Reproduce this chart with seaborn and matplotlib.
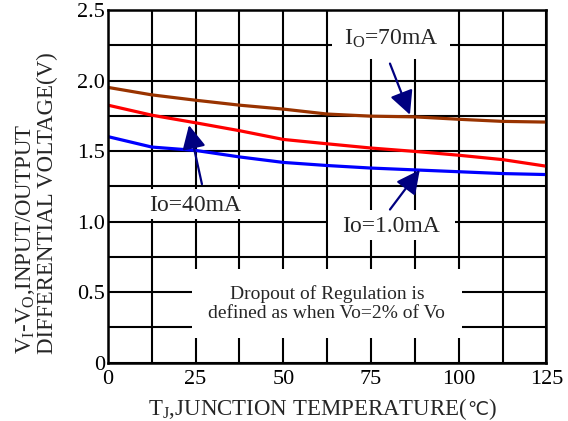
import numpy as np
import pandas as pd
import matplotlib
matplotlib.use("Agg")
import matplotlib.pyplot as plt
from matplotlib.patches import Rectangle
import seaborn as sns

# ---- data ----
temps = [0, 12.5, 25, 37.5, 50, 62.5, 75, 87.5, 100, 112.5, 125]
v_70ma = [1.952, 1.899, 1.861, 1.826, 1.798, 1.763, 1.748, 1.743, 1.726, 1.711, 1.706]
v_40ma = [1.826, 1.755, 1.701, 1.645, 1.583, 1.552, 1.522, 1.498, 1.471, 1.440, 1.393]
v_1ma = [1.603, 1.529, 1.505, 1.459, 1.420, 1.398, 1.380, 1.367, 1.354, 1.341, 1.334]
series_names = ["70mA", "40mA", "1.0mA"]
x_ticks = [0, 25, 50, 75, 100, 125]
y_ticks = [0, 0.5, 1.0, 1.5, 2.0, 2.5]
y_tick_labels = ["0", "0.5", "1.0", "1.5", "2.0", "2.5"]

df = pd.DataFrame({
    "T": temps * 3,
    "V": v_70ma + v_40ma + v_1ma,
    "Io": [series_names[0]] * len(temps) + [series_names[1]] * len(temps) + [series_names[2]] * len(temps),
})

sns.set_style("white")
plt.rcParams['font.family'] = ['Liberation Serif', 'DejaVu Sans']
plt.rcParams['mathtext.fontset'] = 'custom'
plt.rcParams['mathtext.rm'] = 'Liberation Serif'
plt.rcParams['mathtext.it'] = 'Liberation Serif'

fig = plt.figure(figsize=(5.68, 4.21), dpi=100)
ax = fig.add_axes([0.190, 0.1385, 0.772, 0.8375])

palette = {"70mA": "#993300", "40mA": "#ff0000", "1.0mA": "#0000ff"}
sns.lineplot(data=df, x="T", y="V", hue="Io", palette=palette, linewidth=2.3,
             legend=False, ax=ax, zorder=4)

ax.set_xlim(0, 125)
ax.set_ylim(0, 2.5)
ax.set_xticks(x_ticks)
ax.set_xticks(np.arange(0, 125.1, 12.5), minor=True)
ax.set_yticks(y_ticks)
ax.set_yticklabels(y_tick_labels)
ax.set_yticks(np.arange(0, 2.51, 0.25), minor=True)
ax.grid(which='both', color='black', linewidth=1.5, zorder=1)
ax.set_axisbelow(True)
ax.tick_params(which='both', length=0, labelsize=16, colors='black')
ax.tick_params(axis='x', pad=5)
ax.tick_params(axis='y', pad=2)
for s in ax.spines.values():
    s.set_color('black')
    s.set_linewidth(1.8)
    s.set_zorder(6)
ax.set_xlabel("")
ax.set_ylabel("")

# white boxes behind annotations
boxes = [
    (64, 2.15, 33.5, 0.36),     # Io=70mA
    (0.3, 1.02, 47.3, 0.21),    # Io=40mA
    (62.8, 0.872, 36.0, 0.214), # Io=1.0mA
    (24.0, 0.178, 77.0, 0.486), # dropout note
]
for (bx, by, bw, bh) in boxes:
    ax.add_patch(Rectangle((bx, by), bw, bh, facecolor='white', edgecolor='none', zorder=2))

navy = "#000080"
arrow_kw = dict(arrowstyle="-|>,head_length=0.9,head_width=0.45", color=navy, lw=1.6,
                mutation_scale=16, shrinkA=0, shrinkB=0)

ax.text(80.7, 2.295, r"$\mathregular{I_O}$=70mA", fontsize=17, ha='center', va='center', zorder=5)
ax.annotate("", xy=(86.1, 1.758), xytext=(80.4, 2.121), arrowprops=arrow_kw, zorder=5)

ax.text(24.8, 1.118, "Io=40mA", fontsize=17, ha='center', va='center', zorder=5)
ax.annotate("", xy=(23.1, 1.684), xytext=(26.8, 1.266), arrowprops=arrow_kw, zorder=5)

ax.text(80.7, 0.968, "Io=1.0mA", fontsize=17, ha='center', va='center', zorder=5)
ax.annotate("", xy=(88.9, 1.367), xytext=(80.4, 1.086), arrowprops=arrow_kw, zorder=5)

ax.text(62.4, 0.487, "Dropout of Regulation is", fontsize=14, ha='center', va='center', zorder=5)
ax.text(62.4, 0.349, "defined as when Vo=2% of Vo", fontsize=14, ha='center', va='center', zorder=5)

# x label assembled from pieces so the ℃ sign uses a font that has it
renderer = fig.canvas.get_renderer()
pieces = [(r"$\mathregular{T_J}$,JUNCTION TEMPERATURE(", ['Liberation Serif'], 16.5),
          ("℃", ['DejaVu Sans'], 13.5),
          (")", ['Liberation Serif'], 16.5)]
objs = []
widths = []
for txt, fam, fs in pieces:
    t = fig.text(0, 1 - 415 / 421, txt, fontsize=fs, family=fam, ha='left', va='baseline')
    objs.append(t)
    widths.append(t.get_window_extent(renderer).width)
total = sum(widths)
start = 322 - total / 2
for t, w in zip(objs, widths):
    t.set_x(start / 568)
    start += w

fig.text(36 / 568, 1 - 203 / 421,
         "$\\mathregular{V_I}$-$\\mathregular{V_O}$,INPUT/OUTPUT\nDIFFERENTIAL VOLTAGE(V)",
         fontsize=16.5, rotation=90, ha='center', va='center', multialignment='left',
         linespacing=1.0)

fig.savefig("out.png", dpi=100)
